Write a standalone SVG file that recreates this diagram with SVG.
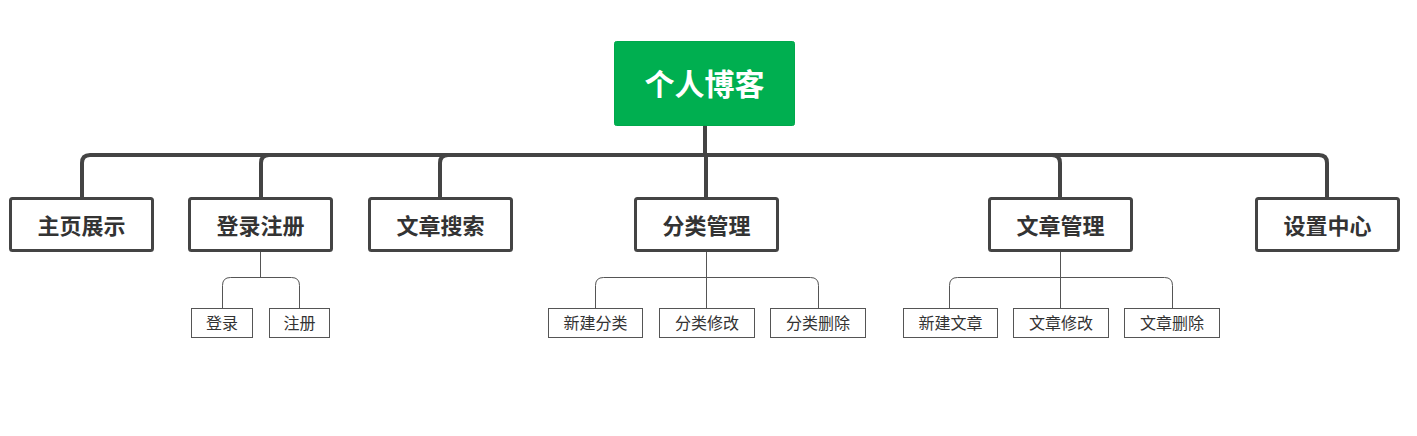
<svg xmlns="http://www.w3.org/2000/svg" width="1417" height="436" viewBox="0 0 1417 436">
<style>
text{font-family:"Noto Sans CJK SC","Liberation Sans",sans-serif;text-anchor:middle;dominant-baseline:central}
.root rect{fill:#00AF50;stroke:#00A84C;stroke-width:1}
.root text{fill:#fff;font-size:30px;font-weight:bold}
.l1 rect{fill:#fff;stroke:#444;stroke-width:3}
.l1 text{fill:#333;font-size:22px;font-weight:bold}
.l2 rect{fill:#fff;stroke:#555;stroke-width:1}
.l2 text{fill:#333;font-size:16px}
.thick{fill:none;stroke:#444;stroke-width:4;stroke-linejoin:round}
.thin{fill:none;stroke:#555;stroke-width:1}
</style>
<rect width="1417" height="436" fill="#fff"/>
<g id="connectors">
<path class="thick" d="M705,126V155"/>
<path class="thick" d="M82,198V163Q82,155 90,155H1319Q1327,155 1327,163V198"/>
<path class="thick" d="M261,198V163Q261,155 269,155"/>
<path class="thick" d="M440,198V163Q440,155 448,155"/>
<path class="thick" d="M706,198V155"/>
<path class="thick" d="M1052,155Q1060,155 1060,163V198"/>
<path class="thin" d="M260.5,250V277.5"/>
<path class="thin" d="M222.5,308V285.5Q222.5,277.5 230.5,277.5H291.5Q299.5,277.5 299.5,285.5V308"/>
<path class="thin" d="M706.5,250V308"/>
<path class="thin" d="M595.5,308V285.5Q595.5,277.5 603.5,277.5H810.5Q818.5,277.5 818.5,285.5V308"/>
<path class="thin" d="M1060.5,250V308"/>
<path class="thin" d="M949.5,308V285.5Q949.5,277.5 957.5,277.5H1164.5Q1172.5,277.5 1172.5,285.5V308"/>
</g>
<g id="root" class="root"><rect x="614.5" y="41.5" width="180" height="84" rx="2"/><text x="704.5" y="82">个人博客</text></g>
<g id="n1" class="l1"><rect x="10.5" y="198.5" width="142" height="52" rx="2"/><text x="81.5" y="223.5">主页展示</text></g>
<g id="n2" class="l1"><rect x="189.5" y="198.5" width="142" height="52" rx="2"/><text x="260.5" y="223.5">登录注册</text></g>
<g id="n3" class="l1"><rect x="369.5" y="198.5" width="142" height="52" rx="2"/><text x="440.5" y="223.5">文章搜索</text></g>
<g id="n4" class="l1"><rect x="635.5" y="198.5" width="142" height="52" rx="2"/><text x="706.5" y="223.5">分类管理</text></g>
<g id="n5" class="l1"><rect x="989.5" y="198.5" width="142" height="52" rx="2"/><text x="1060.5" y="223.5">文章管理</text></g>
<g id="n6" class="l1"><rect x="1256.5" y="198.5" width="142" height="52" rx="2"/><text x="1327.5" y="223.5">设置中心</text></g>
<g id="n2a" class="l2"><rect x="191.5" y="308.5" width="61" height="29"/><text x="222" y="321.5">登录</text></g>
<g id="n2b" class="l2"><rect x="269.5" y="308.5" width="60" height="29"/><text x="299.5" y="321.5">注册</text></g>
<g id="n4a" class="l2"><rect x="548.5" y="308.5" width="94" height="29"/><text x="595.5" y="321.5">新建分类</text></g>
<g id="n4b" class="l2"><rect x="659.5" y="308.5" width="95" height="29"/><text x="707" y="321.5">分类修改</text></g>
<g id="n4c" class="l2"><rect x="770.5" y="308.5" width="95" height="29"/><text x="818" y="321.5">分类删除</text></g>
<g id="n5a" class="l2"><rect x="903.5" y="308.5" width="94" height="29"/><text x="950.5" y="321.5">新建文章</text></g>
<g id="n5b" class="l2"><rect x="1013.5" y="308.5" width="95" height="29"/><text x="1061" y="321.5">文章修改</text></g>
<g id="n5c" class="l2"><rect x="1124.5" y="308.5" width="95" height="29"/><text x="1172" y="321.5">文章删除</text></g>
</svg>
